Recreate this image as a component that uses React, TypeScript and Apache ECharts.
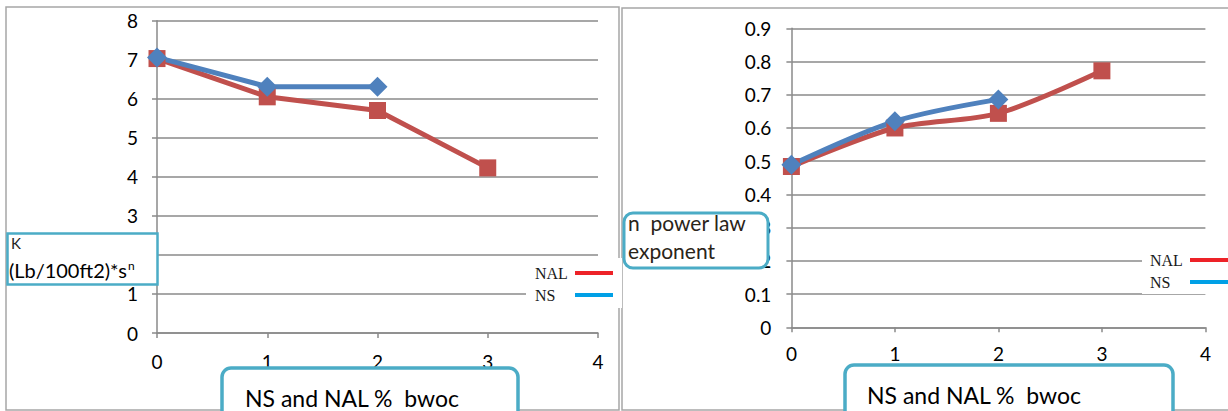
import React, { useEffect, useRef } from "react";
import * as echarts from "echarts";

const xValues = [0, 1, 2, 3];
const kNAL = [7.03, 6.05, 5.7, 4.23];
const kNS = [7.06, 6.31, 6.31];
const nNAL = [0.484, 0.6, 0.644, 0.772];
const nNS = [0.489, 0.62, 0.686];
const seriesNames = ["NAL", "NS"];
const xTitle = "NS and NAL %  bwoc";
const kTitle = ["K", "(Lb/100ft2)*s", "n"];
const nTitle = ["n  power law", "exponent"];
// tick values hidden behind the axis-title boxes in the reference
const kHiddenTicks = [2];

const pairs = (ys: number[]) => ys.map((y, i) => [xValues[i], y]);

const TEAL = "#4bacc6";
const GRID = "#8a8a8a";
const FONT = "Lato";

export default function App() {
  const ref = useRef<HTMLDivElement>(null);
  useEffect(() => {
    if (!ref.current) return;
    const chart = echarts.init(ref.current, undefined, { renderer: "svg" });
    const xAxisBase = (margin: number) => ({
      type: "value" as const,
      min: 0,
      max: 4,
      interval: 1,
      axisLine: { show: true, lineStyle: { color: GRID, width: 1.5 } },
      axisTick: { show: true, length: 5, lineStyle: { color: GRID, width: 1.5 } },
      splitLine: { show: false },
      axisLabel: { color: "#000", fontFamily: FONT, fontSize: 19, margin },
    });
    const yAxisBase = (max: number, interval: number, margin: number) => ({
      type: "value" as const,
      min: 0,
      max,
      interval,
      axisLine: { show: true, lineStyle: { color: GRID, width: 1.5 } },
      axisTick: { show: true, length: 5, lineStyle: { color: GRID, width: 1.5 } },
      splitLine: { show: true, lineStyle: { color: GRID, width: 1.5 } },
      axisLabel: { color: "#000", fontFamily: FONT, fontSize: 19, margin },
    });
    const legendBase = (left: number, top: number, padding: number[]) => ({
      orient: "vertical" as const,
      left,
      top,
      align: "right" as const,
      itemWidth: 38,
      itemHeight: 4,
      itemGap: 6,
      padding,
      backgroundColor: "#fff",
      selectedMode: false,
      formatter: (name: string) => `{a|${name}}`,
      textStyle: {
        rich: {
          a: {
            width: 35,
            align: "left",
            fontFamily: "Liberation Serif",
            fontSize: 16,
            lineHeight: 16,
            color: "#1a1a1a",
          },
        },
      },
      data: [
        { name: seriesNames[0], icon: "rect", itemStyle: { color: "#ed2228" } },
        { name: seriesNames[1], icon: "rect", itemStyle: { color: "#00a0e6" } },
      ],
      z: 20,
    });
    const nalStyle = {
      symbol: "rect",
      symbolSize: 17,
      itemStyle: { color: "#c0504d" },
      lineStyle: { color: "#c0504d", width: 5 },
    };
    const nsStyle = {
      symbol: "diamond",
      symbolSize: 20,
      itemStyle: { color: "#4f81bd" },
      lineStyle: { color: "#4f81bd", width: 5 },
    };
    const yLeft = yAxisBase(8, 1, 19);
    chart.setOption({
      animation: false,
      backgroundColor: "#fff",
      grid: [
        { left: 157, top: 20.7, width: 441, height: 312.3 },
        { left: 791.4, top: 28.3, width: 414, height: 299 },
      ],
      xAxis: [
        { ...xAxisBase(19), gridIndex: 0 },
        { ...xAxisBase(17), gridIndex: 1 },
      ],
      yAxis: [
        {
          ...yLeft,
          gridIndex: 0,
          axisLabel: {
            ...yLeft.axisLabel,
            formatter: (v: number) => (kHiddenTicks.includes(v) ? "" : String(v)),
          },
        },
        { ...yAxisBase(0.9, 0.1, 20), gridIndex: 1 },
      ],
      legend: [legendBase(526, 258, [7, 9, 5, 9]), legendBase(1142, 246, [6, 9, 4, 8])],
      series: [
        { name: seriesNames[0], type: "line", xAxisIndex: 0, yAxisIndex: 0, data: pairs(kNAL), ...nalStyle },
        { name: seriesNames[1], type: "line", xAxisIndex: 0, yAxisIndex: 0, data: pairs(kNS), ...nsStyle },
        { name: seriesNames[0], type: "line", xAxisIndex: 1, yAxisIndex: 1, data: pairs(nNAL), smooth: 0.3, ...nalStyle },
        { name: seriesNames[1], type: "line", xAxisIndex: 1, yAxisIndex: 1, data: pairs(nNS), smooth: 0.3, ...nsStyle },
      ],
      graphic: [
        { type: "rect", z: 1, silent: true, shape: { x: 6, y: 7, width: 613, height: 403 }, style: { fill: "none", stroke: "#a6a6a6", lineWidth: 1.5 } },
        { type: "rect", z: 1, silent: true, shape: { x: 622, y: 8, width: 610, height: 402 }, style: { fill: "none", stroke: "#a6a6a6", lineWidth: 1.5 } },
        // K label box
        { type: "rect", z: 50, shape: { x: 7.5, y: 233.5, width: 150, height: 51 }, style: { fill: "#fff", stroke: TEAL, lineWidth: 2.5 } },
        { type: "text", z: 51, x: 11, y: 243, style: { text: kTitle[0], fontFamily: FONT, fontSize: 15, fill: "#222", verticalAlign: "middle" } },
        {
          type: "text",
          z: 51,
          x: 9,
          y: 270,
          style: {
            text: `{a|${kTitle[1]}}{b|${kTitle[2]}}`,
            verticalAlign: "middle",
            rich: {
              a: { fontFamily: FONT, fontSize: 20, color: "#222" },
              b: { fontFamily: FONT, fontSize: 12, color: "#222", padding: [0, 0, 10, 1] },
            },
          },
        },
        // n label box
        { type: "rect", z: 50, shape: { x: 624, y: 213, width: 144, height: 55, r: 9 }, style: { fill: "#fff", stroke: TEAL, lineWidth: 3 } },
        { type: "text", z: 51, x: 628, y: 222, style: { text: nTitle[0], fontFamily: FONT, fontSize: 21, fill: "#2a2418", verticalAlign: "middle" } },
        { type: "text", z: 51, x: 628, y: 250, style: { text: nTitle[1], fontFamily: FONT, fontSize: 21, fill: "#2a2418", verticalAlign: "middle" } },
        // x titles
        { type: "rect", z: 50, shape: { x: 222, y: 368, width: 296, height: 60, r: 9 }, style: { fill: "#fff", stroke: TEAL, lineWidth: 3.5 } },
        { type: "text", z: 51, x: 245, y: 398, style: { text: xTitle, fontFamily: FONT, fontSize: 23, fill: "#000", verticalAlign: "middle" } },
        { type: "rect", z: 50, shape: { x: 845, y: 365, width: 328, height: 60, r: 9 }, style: { fill: "#fff", stroke: TEAL, lineWidth: 3.5 } },
        { type: "text", z: 51, x: 867, y: 395, style: { text: xTitle, fontFamily: FONT, fontSize: 23, fill: "#000", verticalAlign: "middle" } },
      ],
    });
    return () => chart.dispose();
  }, []);
  return (
    <div
      ref={ref}
      style={{ position: "fixed", left: 0, top: 0, width: 1228, height: 411 }}
    />
  );
}
